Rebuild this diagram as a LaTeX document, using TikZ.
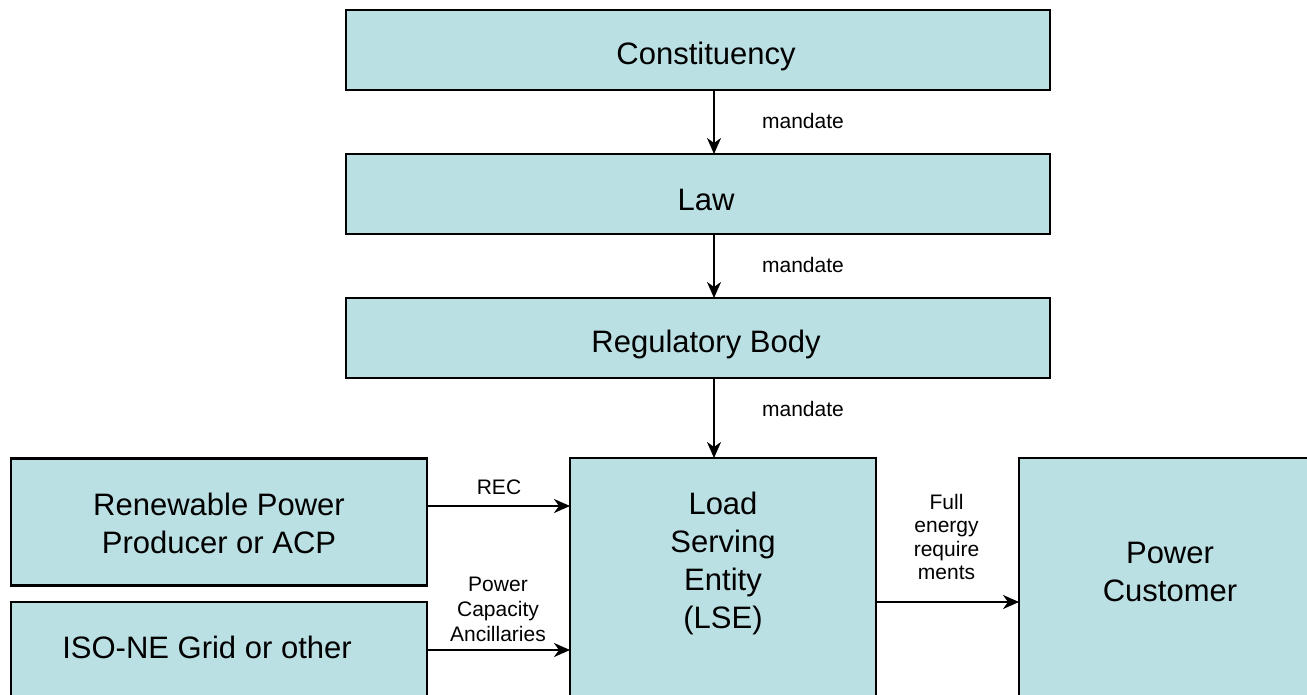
\documentclass[tikz,border=0pt]{standalone}
\usepackage{fontspec}
\setmainfont{Liberation Sans}
\usetikzlibrary{arrows.meta,calc}
\definecolor{boxfill}{HTML}{BBE0E3}
\begin{document}
\begin{tikzpicture}[x=1pt,y=-1pt,
 box/.style={draw=black, line width=2.2pt, fill=boxfill, inner sep=0pt, outer sep=0pt},
 big/.style={font=\fontsize{31}{38}\selectfont, align=center, inner sep=0pt},
 small/.style={font=\fontsize{21}{25}\selectfont, align=center, inner sep=0pt},
 arr/.style={line width=2pt, -{Stealth[length=16pt,width=14pt,inset=5pt]}}]
\useasboundingbox (0,0) rectangle (1307,695);
\clip (0,0) rectangle (1307,695);
% boxes
\node[box, minimum width=704pt, minimum height=80pt] (const) at (698,50) {};
\node[box, minimum width=704pt, minimum height=80pt] (law) at (698,194) {};
\node[box, minimum width=704pt, minimum height=80pt] (reg) at (698,338) {};
\node[box, minimum width=416pt, minimum height=127pt] (ren) at (219,522) {};
\node[box, minimum width=416pt, minimum height=118pt] (iso) at (219,661) {};
\node[box, minimum width=306pt, minimum height=262pt] (lse) at (723,589) {};
\node[box, minimum width=311pt, minimum height=262pt] (pc) at (1174.5,589) {};
% box texts
\node[big] (tconst) at (706,56) {Constituency};
\node[big] (tlaw) at (706,200) {Law};
\node[big] (treg) at (706,344) {Regulatory Body};
\node[big] (tren) at (219,523) {Renewable Power\\Producer or ACP};
\node[big] (tiso) at (207,647) {ISO-NE Grid or other};
\node[big] (tlse) at (723,563) {Load\\Serving\\Entity\\(LSE)};
\node[big] (tpc) at (1170,572) {Power\\Customer};
% arrows
\draw[arr] ([xshift=16pt]const.south) coordinate (a1) -- (a1 |- law.north);
\draw[arr] ([xshift=16pt]law.south) coordinate (a2) -- (a2 |- reg.north);
\draw[arr] ([xshift=16pt]reg.south) coordinate (a3) -- (a3 |- lse.north);
\draw[arr] ([yshift=16pt]ren.east) coordinate (a4) -- (a4 -| lse.west);
\draw[arr] ([yshift=11pt]iso.east) coordinate (a5) -- (a5 -| lse.west);
\draw[arr] ([yshift=-13pt]lse.east) coordinate (a6) -- (a6 -| pc.west);
% labels
\node[small] (m1) at (803,121) {mandate};
\node[small] (m2) at (803,265) {mandate};
\node[small] (m3) at (803,409) {mandate};
\node[small] (lrec) at (499,487) {REC};
\node[small] (lpca) at (498,609) {Power\\Capacity\\Ancillaries};
\node[small, font=\fontsize{21}{23.5}\selectfont] (lfull) at (946.5,537) {Full\\energy\\require\\ments};
\end{tikzpicture}
\end{document}
